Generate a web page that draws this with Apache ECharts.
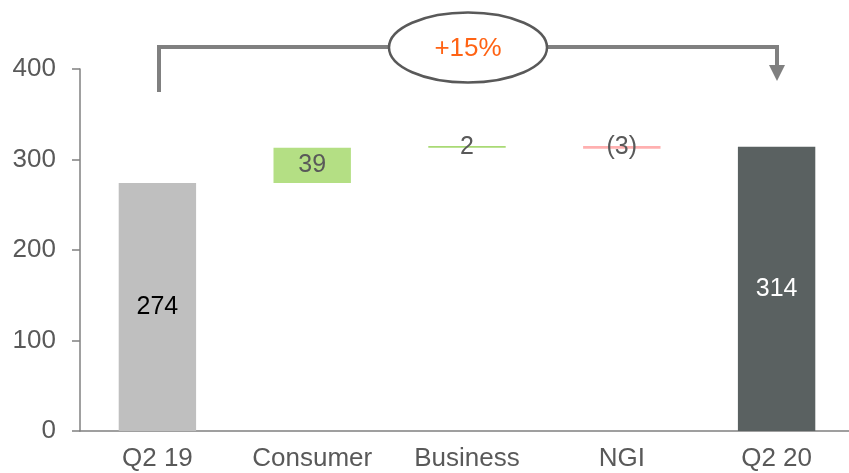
<!DOCTYPE html>
<html>
<head>
<meta charset="utf-8">
<script src="https://cdn.jsdelivr.net/npm/echarts@6/dist/echarts.min.js"></script>
<style>html,body{margin:0;padding:0;background:#fff;}#c{width:849px;height:473px;}</style>
</head>
<body>
<div id="c"></div>
<script>
const categories = ['Q2 19', 'Consumer', 'Business', 'NGI', 'Q2 20'];
const bases = [0, 274, 313, 312, 0];
const deltas = [274, 39, 2, 3, 314];
const valueLabels = ['274', '39', '2', '(3)', '314'];
const barColors = ['#BFBFBF', '#B4DF84', '#A9DA74', '#FFB0B0', '#5A6161'];
const labelColors = ['#000000', '#595959', '#595959', '#595959', '#FFFFFF'];
const yTicks = [0, 100, 200, 300, 400];
const growthLabel = '+15%';

const FONT = 'Arial, "Liberation Sans", sans-serif';
const chart = echarts.init(document.getElementById('c'));
chart.setOption({
  animation: false,
  textStyle: { fontFamily: FONT },
  grid: { left: 80, width: 774, top: 69, bottom: 42, containLabel: false, outerBoundsMode: 'none' },
  xAxis: {
    type: 'category',
    data: categories,
    axisLine: { show: true, lineStyle: { color: '#808080', width: 1.5 } },
    axisTick: { show: false },
    axisLabel: { color: '#595959', fontSize: 26, margin: 15, interval: 0, hideOverlap: false, fontFamily: FONT }
  },
  yAxis: {
    type: 'value',
    min: yTicks[0],
    max: yTicks[yTicks.length - 1],
    interval: 100,
    axisLine: { show: true, lineStyle: { color: '#808080', width: 1.5 } },
    axisTick: { show: true, inside: false, length: 8, lineStyle: { color: '#808080', width: 1.5 } },
    axisLabel: { color: '#595959', fontSize: 26, margin: 24, fontFamily: FONT },
    splitLine: { show: false }
  },
  series: [
    {
      type: 'bar',
      stack: 'w',
      barWidth: '50%',
      itemStyle: { color: 'transparent' },
      emphasis: { disabled: true },
      data: bases
    },
    {
      type: 'bar',
      stack: 'w',
      barWidth: '50%',
      data: deltas.map((v, i) => ({
        value: v,
        itemStyle: { color: barColors[i] },
        label: {
          show: true,
          position: 'inside',
          formatter: valueLabels[i],
          color: labelColors[i],
          fontSize: 25,
          fontFamily: FONT
        }
      }))
    }
  ],
  graphic: [
    {
      type: 'polyline',
      shape: { points: [[159, 92], [159, 47], [777, 47], [777, 67]] },
      style: { stroke: '#808080', lineWidth: 4, fill: null },
      z: 10
    },
    {
      type: 'polygon',
      shape: { points: [[769, 65], [785, 65], [777, 81]] },
      style: { fill: '#808080' },
      z: 10
    },
    {
      type: 'ellipse',
      shape: { cx: 468, cy: 47.5, rx: 79, ry: 35 },
      style: { fill: '#ffffff', stroke: '#595959', lineWidth: 2.5 },
      z: 11
    },
    {
      type: 'text',
      x: 468,
      y: 49,
      style: { text: growthLabel, fill: '#FF6314', font: '26px ' + FONT, textAlign: 'center', textVerticalAlign: 'middle' },
      z: 12
    }
  ]
});
</script>
</body>
</html>
